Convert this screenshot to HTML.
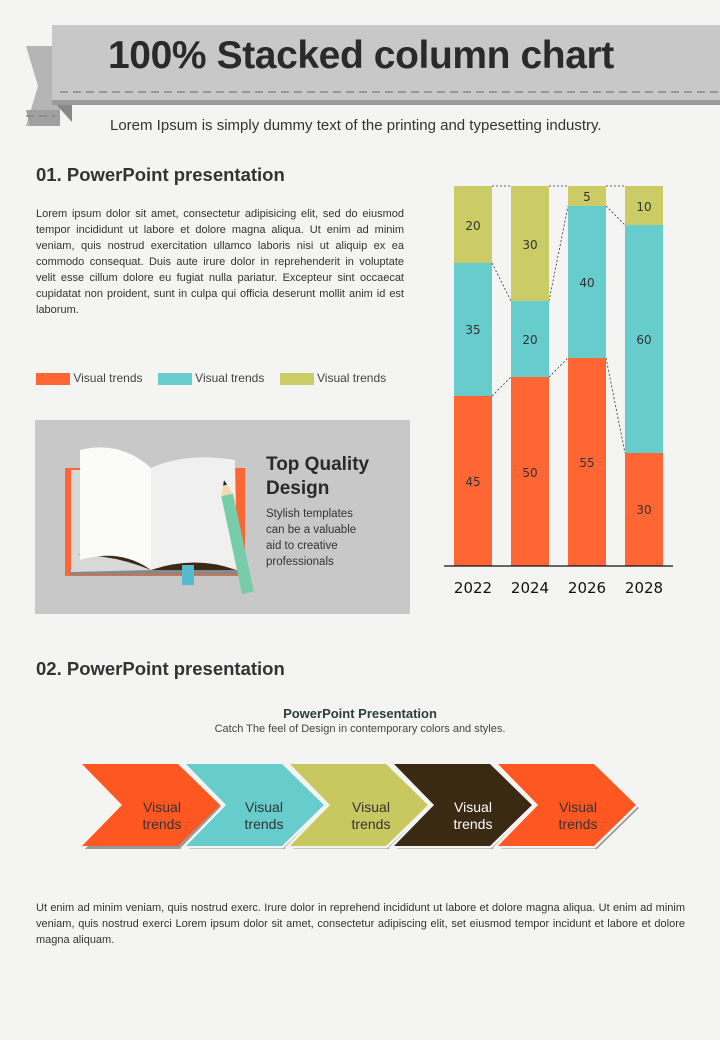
<!DOCTYPE html>
<html><head><meta charset="utf-8"><style>
body{margin:0;width:720px;height:1040px;background:#f4f4f3;font-family:"Liberation Sans",sans-serif;color:#333;position:relative;overflow:hidden}
.a{position:absolute}
h2{margin:0;font-size:18.5px;font-weight:bold;color:#333}
.p{font-size:11px;line-height:16px;text-align:justify;color:#333}
</style></head><body>
<svg class="a" style="left:0;top:0" width="720" height="140">
<polygon points="26,46 60,46 60,126 26,126 38,86" fill="#b5b5b5"/>
<polygon points="26,110 60,110 60,126 30,126" fill="#a0a0a0"/>
<polygon points="52,100 72,122 72,100" fill="#888"/>
<rect x="52" y="25" width="668" height="78" fill="#c8c8c8"/>
<rect x="52" y="100" width="668" height="5" fill="#9a9a9a"/>
<line x1="60" y1="92" x2="720" y2="92" stroke="#888" stroke-width="1.5" stroke-dasharray="8,5"/>
<line x1="26" y1="116" x2="55" y2="116" stroke="#888" stroke-width="1.5" stroke-dasharray="8,5"/>
</svg>
<div class="a" style="left:108px;top:34px;font-size:39px;font-weight:bold;color:#2a2a2a;letter-spacing:-0.4px">100% Stacked column chart</div>
<div class="a" style="left:110px;top:117px;font-size:15px;color:#333">Lorem Ipsum is simply dummy text of the printing and typesetting industry.</div>
<h2 class="a" style="left:36px;top:164px">01. PowerPoint presentation</h2>
<div class="a p" style="left:36px;top:206px;width:368px">Lorem ipsum dolor sit amet, consectetur adipisicing elit, sed do eiusmod tempor incididunt ut labore et dolore magna aliqua. Ut enim ad minim veniam, quis nostrud exercitation ullamco laboris nisi ut aliquip ex ea commodo consequat. Duis aute irure dolor in reprehenderit in voluptate velit esse cillum dolore eu fugiat nulla pariatur. Excepteur sint occaecat cupidatat non proident, sunt in culpa qui officia deserunt mollit anim id est laborum.</div>
<div class="a" style="left:36px;top:371px;font-size:12px;color:#444;white-space:nowrap">
<span style="display:inline-block;width:34px;height:12px;background:#ff6633;vertical-align:middle"></span> Visual trends
<span style="display:inline-block;width:34px;height:12px;background:#66cccc;vertical-align:middle;margin-left:12px"></span> Visual trends
<span style="display:inline-block;width:34px;height:12px;background:#cccc66;vertical-align:middle;margin-left:12px"></span> Visual trends</div>
<div class="a" style="left:35px;top:420px;width:375px;height:194px;background:#c8c8c8"></div>
<svg class="a" style="left:35px;top:420px" width="375" height="194">
<rect x="30" y="48" width="180" height="108" fill="#ff6633"/>
<rect x="34" y="150" width="178" height="5" fill="#888"/>
<path d="M36,50 L116,50 L116,150 L36,152 Z" fill="#d8d8d8"/>
<path d="M43,135 Q80,135 116,150 L200,150 Q160,135 115,140 Q80,128 43,135Z" fill="#3a2a17"/>
<path d="M45,30 Q85,20 116,48 L116,150 Q85,128 45,140 Z" fill="#fbfbf9"/>
<path d="M116,48 Q150,32 200,40 L202,150 Q160,135 116,150Z" fill="#f0f0f0"/>
<rect x="147" y="145" width="12" height="20" fill="#55bbcc"/>
<g transform="rotate(-12 190 60)"><rect x="183" y="75" width="12" height="100" fill="#77ccaa"/><polygon points="183,75 195,75 189,60" fill="#f5d9b0"/><polygon points="187,65 191,65 189,60" fill="#222"/></g>
</svg>
<div class="a" style="left:266px;top:453px;font-size:19px;font-weight:bold;color:#2a2a2a;line-height:24px">Top Quality<br>Design</div>
<div class="a" style="left:266px;top:506px;font-size:11.5px;color:#333;line-height:16px">Stylish templates<br>can be a valuable<br>aid to creative<br>professionals</div>
<svg class="a" style="left:430px;top:170px" width="260" height="440" font-family="DejaVu Sans, sans-serif" font-size="12" fill="#333">
<g stroke="#333" stroke-width="0.8" stroke-dasharray="2,2" fill="none">
<line x1="62" y1="16" x2="81" y2="16"/><line x1="119" y1="16" x2="138" y2="16"/><line x1="176" y1="16" x2="195" y2="16"/>
<line x1="62" y1="93" x2="81" y2="131"/><line x1="62" y1="226" x2="81" y2="207"/>
<line x1="119" y1="131" x2="138" y2="36"/><line x1="119" y1="207" x2="138" y2="188"/>
<line x1="176" y1="36" x2="195" y2="55"/><line x1="176" y1="188" x2="195" y2="283"/>
</g>
<rect x="24" y="16" width="38" height="77" fill="#cccc66"/><rect x="24" y="93" width="38" height="133" fill="#66cccc"/><rect x="24" y="226" width="38" height="170" fill="#ff6633"/>
<rect x="81" y="16" width="38" height="115" fill="#cccc66"/><rect x="81" y="131" width="38" height="76" fill="#66cccc"/><rect x="81" y="207" width="38" height="189" fill="#ff6633"/>
<rect x="138" y="16" width="38" height="20" fill="#cccc66"/><rect x="138" y="36" width="38" height="152" fill="#66cccc"/><rect x="138" y="188" width="38" height="208" fill="#ff6633"/>
<rect x="195" y="16" width="38" height="39" fill="#cccc66"/><rect x="195" y="55" width="38" height="228" fill="#66cccc"/><rect x="195" y="283" width="38" height="113" fill="#ff6633"/>
<g text-anchor="middle">
<text x="43" y="60">20</text><text x="43" y="164">35</text><text x="43" y="316">45</text>
<text x="100" y="79">30</text><text x="100" y="174">20</text><text x="100" y="307">50</text>
<text x="157" y="31">5</text><text x="157" y="117">40</text><text x="157" y="297">55</text>
<text x="214" y="41">10</text><text x="214" y="174">60</text><text x="214" y="344">30</text>
<g font-size="15" fill="#111"><text x="43" y="423">2022</text><text x="100" y="423">2024</text><text x="157" y="423">2026</text><text x="214" y="423">2028</text></g>
</g>
<line x1="14" y1="396" x2="243" y2="396" stroke="#111" stroke-width="1.2"/>
</svg>
<h2 class="a" style="left:36px;top:658px">02. PowerPoint presentation</h2>
<div class="a" style="left:0;width:720px;top:706px;text-align:center;font-size:13px;font-weight:bold;color:#2d3e3e">PowerPoint Presentation</div>
<div class="a" style="left:0;width:720px;top:723px;text-align:center;font-size:11px;color:#444">Catch The feel of Design in contemporary colors and styles.</div>
<svg class="a" style="left:0;top:760px" width="720" height="95" font-family="Liberation Sans, sans-serif" font-size="14" text-anchor="middle">
<defs><polygon id="c" points="0,4 96,4 138,45 96,86 0,86 40,45"/></defs>
<g transform="translate(85,3)"><use href="#c" fill="#999"/></g><g transform="translate(82,0)"><use href="#c" fill="#ff5722"/><text x="80" y="52" fill="#333">Visual</text><text x="80" y="69" fill="#333">trends</text></g>
<g transform="translate(189,3)"><use href="#c" fill="#999"/></g><g transform="translate(186,0)"><use href="#c" fill="#66cccc" stroke="#f4f4f3" stroke-width="5"/><use href="#c" fill="#66cccc"/><text x="78" y="52" fill="#333">Visual</text><text x="78" y="69" fill="#333">trends</text></g>
<g transform="translate(293,3)"><use href="#c" fill="#999"/></g><g transform="translate(290,0)"><use href="#c" fill="#c8c860" stroke="#f4f4f3" stroke-width="5"/><use href="#c" fill="#c8c860"/><text x="81" y="52" fill="#333">Visual</text><text x="81" y="69" fill="#333">trends</text></g>
<g transform="translate(397,3)"><use href="#c" fill="#999"/></g><g transform="translate(394,0)"><use href="#c" fill="#3a2a14" stroke="#f4f4f3" stroke-width="5"/><use href="#c" fill="#3a2a14"/><text x="79" y="52" fill="#fff">Visual</text><text x="79" y="69" fill="#fff">trends</text></g>
<g transform="translate(501,3)"><use href="#c" fill="#999"/></g><g transform="translate(498,0)"><use href="#c" fill="#ff5722" stroke="#f4f4f3" stroke-width="5"/><use href="#c" fill="#ff5722"/><text x="80" y="52" fill="#333">Visual</text><text x="80" y="69" fill="#333">trends</text></g>
</svg>
<div class="a p" style="left:36px;top:900px;width:649px">Ut enim ad minim veniam, quis nostrud exerc. Irure dolor in reprehend incididunt ut labore et dolore magna aliqua. Ut enim ad minim veniam, quis nostrud exerci Lorem ipsum dolor sit amet, consectetur adipiscing elit, set eiusmod tempor incidunt et labore et dolore magna aliquam.</div>
</body></html>
